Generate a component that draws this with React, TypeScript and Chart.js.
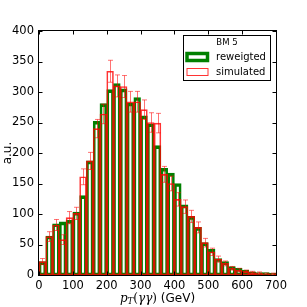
import React, { useEffect, useRef } from "react";
import { Chart, registerables } from "chart.js";

Chart.register(...registerables);

const binCenters = [10, 30, 50, 70, 90, 110, 130, 150, 170, 190, 210, 230, 250, 270, 290, 310, 330, 350, 370, 390, 410, 430, 450, 470, 490, 510, 530, 550, 570, 590, 610, 630, 650, 670, 690];
const reweighted = [22, 64, 84, 87, 90, 103, 130, 187, 252, 281, 304, 314, 305, 282, 291, 261, 248, 212, 175, 167, 150, 115, 96, 78, 53, 42, 27, 22, 14, 11, 8, 5, 4, 4, 3];
const simulated = [22, 63, 82, 58, 94, 101, 161, 187, 240, 264, 334, 310, 309, 284, 284, 271, 250, 249, 165, 150, 124, 112, 96, 78, 53, 38, 26, 19, 11, 8, 6, 4, 3, 2, 2];
const simErrors = [5, 8, 9, 8, 10, 10, 13, 14, 15, 16, 18, 18, 18, 17, 17, 16, 16, 16, 13, 12, 11, 11, 10, 9, 7, 6, 5, 4, 3, 3, 2, 2, 2, 1, 1];
const xTicks = [0, 100, 200, 300, 400, 500, 600, 700];
const yTicks = [0, 50, 100, 150, 200, 250, 300, 350, 400];
const legendTitle = "BM 5";
const seriesNames = ["reweigted", "simulated"];

const GREEN = "#008000";
const RED = "rgba(255,0,0,0.8)";
const RED_ERR = "rgba(255,0,0,0.55)";
const SANS = "'DejaVu Sans', sans-serif";
const SERIF = "'DejaVu Serif', serif";

const overlay = {
  id: "overlay",
  afterDatasetsDraw(chart: any) {
    const ctx = chart.ctx;
    const xs = chart.scales.x;
    const ys = chart.scales.y;
    ctx.save();
    ctx.strokeStyle = RED_ERR;
    ctx.lineWidth = 1;
    for (let i = 0; i < binCenters.length; i++) {
      const x = Math.round(xs.getPixelForValue(binCenters[i])) + 0.5;
      const y1 = ys.getPixelForValue(simulated[i] + simErrors[i]);
      const y2 = ys.getPixelForValue(Math.max(0, simulated[i] - simErrors[i]));
      ctx.beginPath();
      ctx.moveTo(x, y1);
      ctx.lineTo(x, y2);
      ctx.moveTo(x - 2.5, y1);
      ctx.lineTo(x + 2.5, y1);
      ctx.moveTo(x - 2.5, y2);
      ctx.lineTo(x + 2.5, y2);
      ctx.stroke();
    }
    ctx.restore();
  },
  afterDraw(chart: any) {
    const ctx = chart.ctx;
    const a = chart.chartArea;
    const xs = chart.scales.x;
    const ys = chart.scales.y;
    ctx.save();
    // frame
    ctx.strokeStyle = "#000";
    ctx.lineWidth = 1;
    const L = Math.round(a.left) - 0.5;
    const R = Math.round(a.right) + 0.5;
    const T = Math.round(a.top) - 0.5;
    const B = Math.round(a.bottom) + 0.5;
    ctx.strokeRect(L, T, R - L, B - T);
    // ticks inward
    ctx.beginPath();
    for (const v of xTicks) {
      const x = Math.round(xs.getPixelForValue(v)) + 0.5;
      ctx.moveTo(x, B);
      ctx.lineTo(x, B - 4);
      ctx.moveTo(x, T);
      ctx.lineTo(x, T + 4);
    }
    for (const v of yTicks) {
      const y = Math.round(ys.getPixelForValue(v)) + 0.5;
      ctx.moveTo(L, y);
      ctx.lineTo(L + 4, y);
      ctx.moveTo(R, y);
      ctx.lineTo(R - 4, y);
    }
    ctx.stroke();

    // legend
    ctx.fillStyle = "#fff";
    ctx.fillRect(183, 35, 88, 46);
    ctx.strokeStyle = "#000";
    ctx.lineWidth = 1;
    ctx.strokeRect(183.5, 35.5, 87, 45);
    ctx.fillStyle = "#000";
    ctx.textBaseline = "middle";
    ctx.textAlign = "center";
    ctx.font = `8.5px ${SANS}`;
    ctx.fillText(legendTitle, 227, 43);
    ctx.strokeStyle = GREEN;
    ctx.lineWidth = 3.5;
    ctx.strokeRect(187, 53.5, 20.5, 7);
    ctx.strokeStyle = RED;
    ctx.lineWidth = 1;
    ctx.strokeRect(187, 68.5, 21, 7);
    ctx.fillStyle = "#000";
    ctx.textAlign = "left";
    ctx.font = `10px ${SANS}`;
    ctx.fillText(seriesNames[0], 216, 57.5);
    ctx.fillText(seriesNames[1], 216, 72.5);

    // x title: p_T(γγ) (GeV)
    const parts = [
      { t: "p", f: `italic 12px ${SERIF}`, dy: 0 },
      { t: "T", f: `italic 8.5px ${SERIF}`, dy: 2 },
      { t: "(", f: `12px ${SERIF}`, dy: 0 },
      { t: "γγ", f: `italic 12px ${SERIF}`, dy: 0 },
      { t: ")", f: `12px ${SERIF}`, dy: 0 },
      { t: " (GeV)", f: `12px ${SANS}`, dy: 0 },
    ];
    ctx.textBaseline = "alphabetic";
    let total = 0;
    for (const p of parts) {
      ctx.font = p.f;
      total += ctx.measureText(p.t).width;
    }
    let cx = (a.left + a.right) / 2 - total / 2;
    for (const p of parts) {
      ctx.font = p.f;
      ctx.fillText(p.t, cx, 302 + p.dy);
      cx += ctx.measureText(p.t).width;
    }

    // y title
    ctx.save();
    ctx.translate(8, (a.top + a.bottom) / 2);
    ctx.rotate(-Math.PI / 2);
    ctx.textAlign = "center";
    ctx.textBaseline = "middle";
    ctx.font = `12px ${SANS}`;
    ctx.fillText("a.u.", 0, 0);
    ctx.restore();

    ctx.restore();
  },
};

export default function App() {
  const ref = useRef<HTMLCanvasElement>(null);
  useEffect(() => {
    if (!ref.current) return;
    const chart = new Chart(ref.current, {
      type: "bar",
      data: {
        datasets: [
          {
            label: seriesNames[0],
            data: binCenters.map((x, i) => ({ x, y: reweighted[i] })),
            backgroundColor: "rgba(0,0,0,0)",
            borderColor: GREEN,
            borderWidth: { top: 3, left: 2, right: 2, bottom: 2 },
            borderSkipped: false,
            order: 1,
          } as any,
          {
            label: seriesNames[1],
            data: binCenters.map((x, i) => ({ x, y: simulated[i] })),
            backgroundColor: "rgba(0,0,0,0)",
            borderColor: RED,
            borderWidth: 1,
            borderSkipped: false,
            order: 0,
          } as any,
        ],
      },
      options: {
        animation: false,
        responsive: false,
        devicePixelRatio: 1,
        events: [],
        grouped: false,
        barPercentage: 1,
        categoryPercentage: 1,
        layout: { padding: { top: 31, right: 31, left: 0, bottom: 0 } },
        plugins: { legend: { display: false }, tooltip: { enabled: false } },
        scales: {
          x: {
            type: "linear",
            min: 0,
            max: 700,
            offset: false,
            grid: { display: false, drawTicks: false },
            border: { display: false },
            ticks: {
              stepSize: 100,
              padding: 4,
              color: "#000",
              font: { family: "DejaVu Sans", size: 11.5 },
              maxRotation: 0,
            },
            afterFit: (s: any) => {
              s.height = 32;
            },
          },
          y: {
            type: "linear",
            min: 0,
            max: 400,
            grid: { display: false, drawTicks: false },
            border: { display: false },
            ticks: {
              stepSize: 50,
              padding: 5,
              color: "#000",
              font: { family: "DejaVu Sans", size: 11.5 },
            },
            afterFit: (s: any) => {
              s.width = 39;
            },
          },
        },
      } as any,
      plugins: [overlay],
    });
    return () => chart.destroy();
  }, []);
  return (
    <div style={{ position: "fixed", left: 0, top: 0, width: 307, height: 307, background: "#fff" }}>
      <canvas ref={ref} width={307} height={307} style={{ display: "block" }} />
    </div>
  );
}
